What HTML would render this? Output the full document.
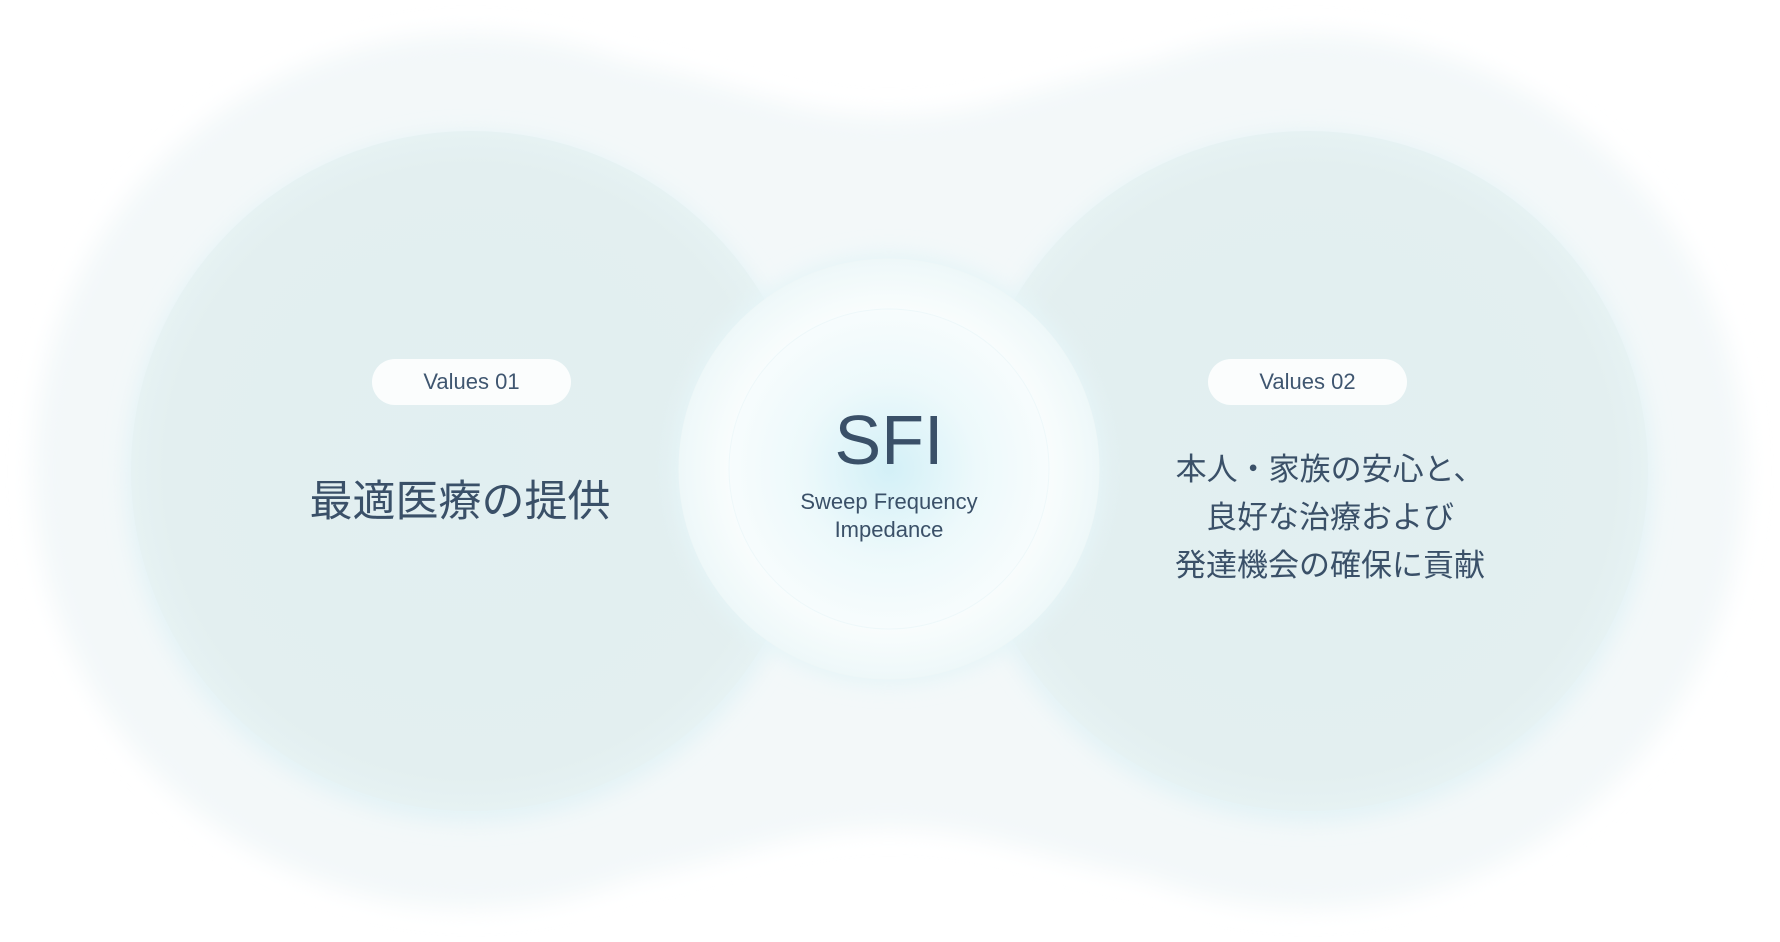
<!DOCTYPE html>
<html><head><meta charset="utf-8"><style>
html,body{margin:0;padding:0;background:#fff;}
body{width:1780px;height:942px;position:relative;overflow:hidden;font-family:"Liberation Sans","Noto Sans CJK JP",sans-serif;color:#3a5068;}
svg{position:absolute;left:0;top:0;}
.t{position:absolute;text-align:center;white-space:nowrap;}
.pill{position:absolute;background:#fbfdfd;border-radius:24px;height:46px;line-height:46px;width:199px;text-align:center;font-size:22px;color:#3f5670;}
</style></head><body>
<svg width="1780" height="942" viewBox="0 0 1780 942">
<defs>
<filter id="b1" x="-20%" y="-20%" width="140%" height="140%"><feGaussianBlur stdDeviation="12"/></filter>
<filter id="b2" x="-20%" y="-20%" width="140%" height="140%"><feGaussianBlur stdDeviation="10"/></filter>
<radialGradient id="cg" cx="50%" cy="50%" r="50%">
<stop offset="0" stop-color="#e1eff1"/><stop offset="0.9" stop-color="#e3eff0"/><stop offset="1" stop-color="#e6f2f3"/></radialGradient>
<radialGradient id="mid" cx="50%" cy="50%" r="50%">
<stop offset="0" stop-color="#d3f0f7"/><stop offset="0.55" stop-color="#edf9fb"/><stop offset="1" stop-color="#f7fcfd"/></radialGradient>
<radialGradient id="ring" cx="50%" cy="50%" r="50%">
<stop offset="0.75" stop-color="#f9fdfd"/><stop offset="1" stop-color="#eef8f9"/></radialGradient>
</defs>
<g filter="url(#b1)" fill="#f3f8f9">
<circle cx="471" cy="471" r="437"/>
<circle cx="1308" cy="471" r="437"/>
<path d="M471 50 C700 50 750 116 889 116 C1030 116 1080 50 1308 50 L1308 890 C1080 890 1030 828 889 828 C750 828 700 890 471 890 Z"/>
</g>
<circle cx="471" cy="478" r="345" fill="#e4f3f6" filter="url(#b2)"/>
<circle cx="1308" cy="478" r="345" fill="#e4f3f6" filter="url(#b2)"/>
<circle cx="471" cy="471" r="340" fill="url(#cg)"/>
<circle cx="1308" cy="471" r="340" fill="url(#cg)"/>
<circle cx="889" cy="469" r="216" fill="#e6f5f8" filter="url(#b2)"/>
<circle cx="889" cy="469" r="210" fill="url(#ring)" stroke="#eef7f8" stroke-width="1"/>
<circle cx="889" cy="469" r="160" fill="url(#mid)" stroke="#eef8fa" stroke-width="1"/>
</svg>
<div class="pill" style="left:372px;top:359px;">Values 01</div>
<div class="pill" style="left:1208px;top:359px;">Values 02</div>
<div class="t" style="left:260px;width:400px;top:476px;font-size:43px;line-height:52px;">最適医療の提供</div>
<div class="t" style="left:1130px;width:400px;top:446px;font-size:31px;line-height:48px;">本人・家族の安心と、<br>良好な治療および<br>発達機会の確保に貢献</div>
<div class="t" style="left:739px;width:300px;top:400px;font-size:70px;line-height:80px;">SFI</div>
<div class="t" style="left:739px;width:300px;top:488px;font-size:22px;line-height:28px;">Sweep Frequency<br>Impedance</div>
</body></html>
